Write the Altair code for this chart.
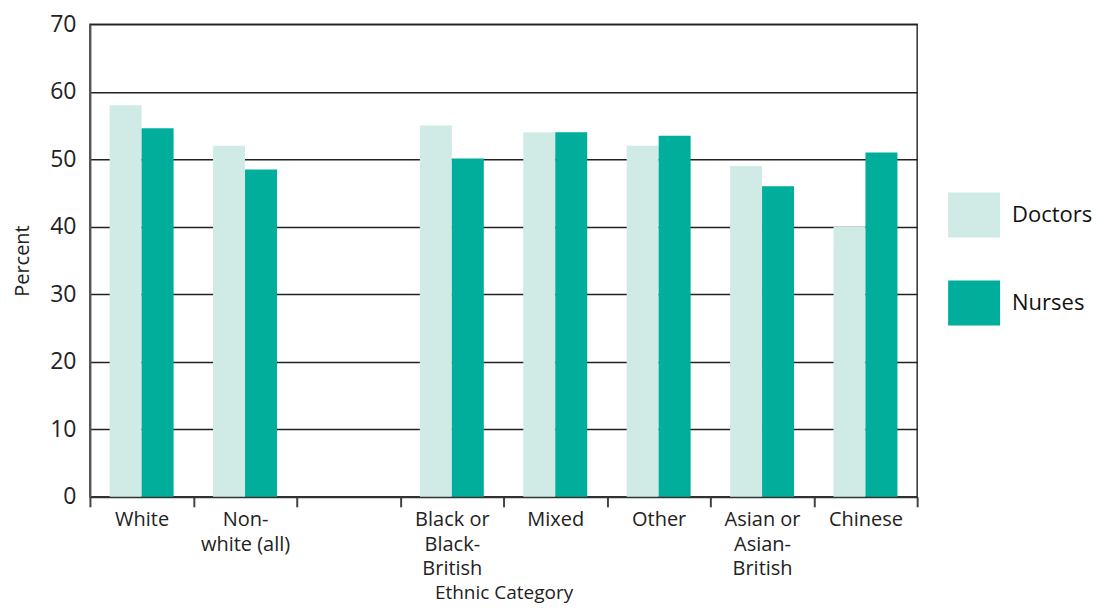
import altair as alt
import pandas as pd

categories = ["White", "Non-white (all)", "gap", "Black or Black-British", "Mixed",
              "Other", "Asian or Asian-British", "Chinese"]
label_lines = {
    "White": ["White"],
    "Non-white (all)": ["Non-", "white (all)"],
    "gap": [""],
    "Black or Black-British": ["Black or", "Black-", "British"],
    "Mixed": ["Mixed"],
    "Other": ["Other"],
    "Asian or Asian-British": ["Asian or", "Asian-", "British"],
    "Chinese": ["Chinese"],
}
doctors = [58, 52, None, 55, 54, 52, 49, 40]
nurses = [54.6, 48.5, None, 50.1, 54, 53.5, 46, 51]
series = ["Doctors", "Nurses"]
colors = ["#d0ebe6", "#00ae9b"]

rows = []
for c, d, n in zip(categories, doctors, nurses):
    if d is not None:
        rows.append({"cat": c, "group": "Doctors", "value": d})
    if n is not None:
        rows.append({"cat": c, "group": "Nurses", "value": n})
df = pd.DataFrame(rows)

expr = "datum.label"
for k, v in reversed(list(label_lines.items())):
    arr = "[" + ",".join("'" + s + "'" for s in v) + "]"
    expr = f"datum.value == '{k}' ? {arr} : ({expr})"

FONT = "Open Sans"

chart = alt.Chart(df).mark_bar().encode(
    x=alt.X("cat:N", sort=categories,
            scale=alt.Scale(domain=categories, paddingInner=0, paddingOuter=0),
            axis=alt.Axis(title="Ethnic Category", labelAngle=0, tickBand="extent",
                          labelExpr=expr, labelLineHeight=24.5, labelPadding=3,
                          tickSize=10, tickColor="#444", tickWidth=2,
                          domainColor="#333", domainWidth=2,
                          labelFontSize=20, labelColor="#222", labelFont=FONT,
                          titleFontSize=19, titleFont=FONT, titleFontWeight="normal",
                          titleColor="#222", titlePadding=5, grid=False,
                          labelBaseline="top")),
    xOffset=alt.XOffset("group:N", sort=series,
                        scale=alt.Scale(paddingInner=0, paddingOuter=0.617)),
    y=alt.Y("value:Q", scale=alt.Scale(domain=[0, 70], nice=False),
            axis=alt.Axis(title="Percent", values=list(range(0, 71, 10)),
                          ticks=False, labelPadding=14, labelFontSize=23,
                          labelColor="#222", labelFont=FONT,
                          domainColor="#555", domainWidth=2,
                          gridColor="#222", gridWidth=1.5, gridOpacity=1,
                          titleFontSize=20, titleFont=FONT, titleFontWeight="normal",
                          titleColor="#222", titlePadding=17)),
    color=alt.Color("group:N", sort=series,
                    scale=alt.Scale(domain=series, range=colors),
                    legend=alt.Legend(title=None, orient="none", legendX=859, legendY=165,
                                      symbolType="M-1,-0.865L1,-0.865L1,0.865L-1,0.865Z",
                                      symbolSize=2704, symbolStrokeWidth=0,
                                      symbolOpacity=1, rowPadding=39, labelOffset=12,
                                      labelFontSize=22, labelFont=FONT, labelColor="#111",
                                      padding=0)),
).properties(
    width=828, height=473,
    autosize=alt.AutoSizeParams(type="none"),
    padding={"left": 82, "top": 16, "right": 180, "bottom": 110},
).configure_view(stroke="#333", strokeWidth=1.5)

chart.save("out.html", embed_options={"renderer": "svg", "actions": False})
